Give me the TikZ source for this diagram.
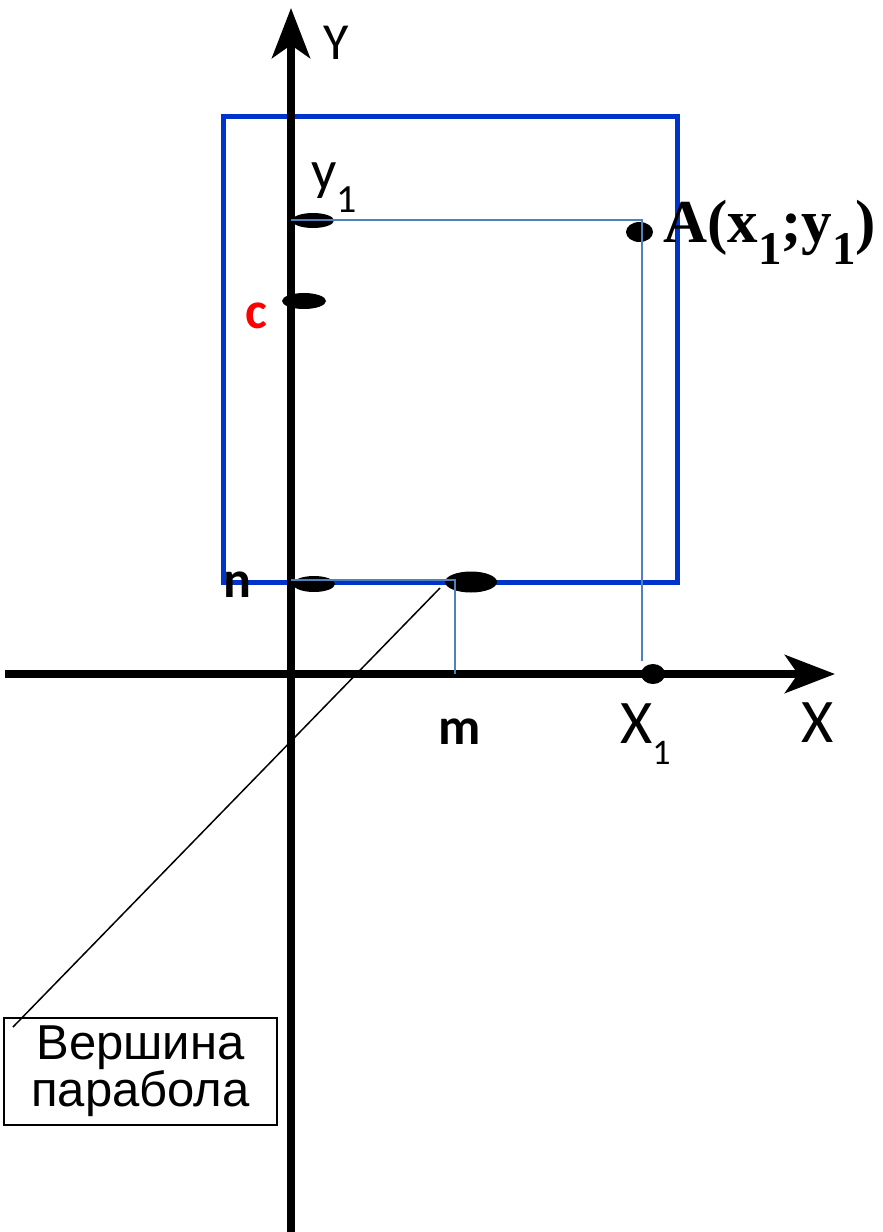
\documentclass[tikz,border=0pt]{standalone}
\usepackage{fontspec}
\setmainfont{Carlito}
\newfontfamily\timesbf{Liberation Serif}
\newfontfamily\arialf{Liberation Sans}
\usetikzlibrary{arrows.meta,shapes.geometric}
\definecolor{frameblue}{HTML}{0033CC}
\definecolor{guideblue}{HTML}{4F81BD}
\newcommand{\subdn}[3]{\raisebox{-#1pt}{\fontsize{#2}{#2}\selectfont #3}}
\tikzset{axis/.style={line width=7.5pt,-{Stealth[length=50pt,width=38pt,inset=13pt]}},frame/.style={draw=frameblue,line width=5pt},guide/.style={draw=guideblue,line width=2pt},pt/.style={ellipse,fill=black,inner sep=0pt},lbl/.style={inner sep=0pt,font=\fontsize{52}{60}\selectfont},blbl/.style={lbl,font=\fontsize{52}{60}\selectfont\bfseries},leader/.style={line width=1.5pt},note/.style={draw,line width=1.5pt,minimum width=273pt,minimum height=107pt,inner sep=0pt,align=center,font=\arialf\fontsize{49}{43}\selectfont}}

\begin{document}
\begin{tikzpicture}[x=1pt,y=-1pt]
\useasboundingbox (0,0) rectangle (883,1232);
\draw[frame] (223,116) rectangle (677,582);
\coordinate (xl) at (5,674);\coordinate (xr) at (835,674);\coordinate (yb) at (291,1232);\coordinate (yt) at (291,8);
\draw[axis] (xl) -- (xr);\draw[axis] (yb) -- (yt);
\node[pt,minimum width=42pt,minimum height=15pt] (py1) at (313,220.5) {};
\node[pt,minimum width=44pt,minimum height=16pt] (pc) at (304,301) {};
\node[pt,minimum width=42pt,minimum height=16pt] (pn) at (314,584) {};
\node[pt,minimum width=52pt,minimum height=21pt] (vtx) at (471,582) {};
\node[pt,minimum width=27pt,minimum height=20pt] (pa) at (639.5,232) {};
\node[pt,minimum width=24pt,minimum height=20pt] (px1) at (653,674) {};
\coordinate (gy1) at (291,220);\coordinate (gx1) at (642,661);\coordinate (gn) at (291,580);\coordinate (gm) at (455,674);
\draw[guide] (gy1) -| (gx1);\draw[guide] (gn) -| (gm);
\node[lbl] (ylab) at (336,43) {Y};
\node[lbl,font=\fontsize{62}{70}\selectfont] (xlab) at (818,723) {X};
\node[lbl,anchor=base west,font=\fontsize{62}{70}\selectfont] (x1lab) at (620,743) {X\subdn{21}{36pt}{1}};
\node[lbl,anchor=base west,font=\fontsize{56}{64}\selectfont] (y1lab) at (311,189) {y\subdn{23}{40pt}{1}};
\node[blbl,text=red] (clab) at (256,316) {c};
\node[blbl] (nlab) at (237,585) {n};
\node[blbl] (mlab) at (460,732) {m};
\node[lbl,anchor=base west,font=\timesbf\bfseries\fontsize{61}{70}\selectfont] (alab) at (663,242) {A(x\subdn{22}{47pt}{1};y\subdn{22}{47pt}{1})};
\node[note] (vertex) at (140.5,1071.5) {Вершина\\парабола};
\coordinate (lead0) at (440,588);\coordinate (lead1) at (13,1027);
\draw[leader] (lead0) -- (lead1);
\end{tikzpicture}
\end{document}
